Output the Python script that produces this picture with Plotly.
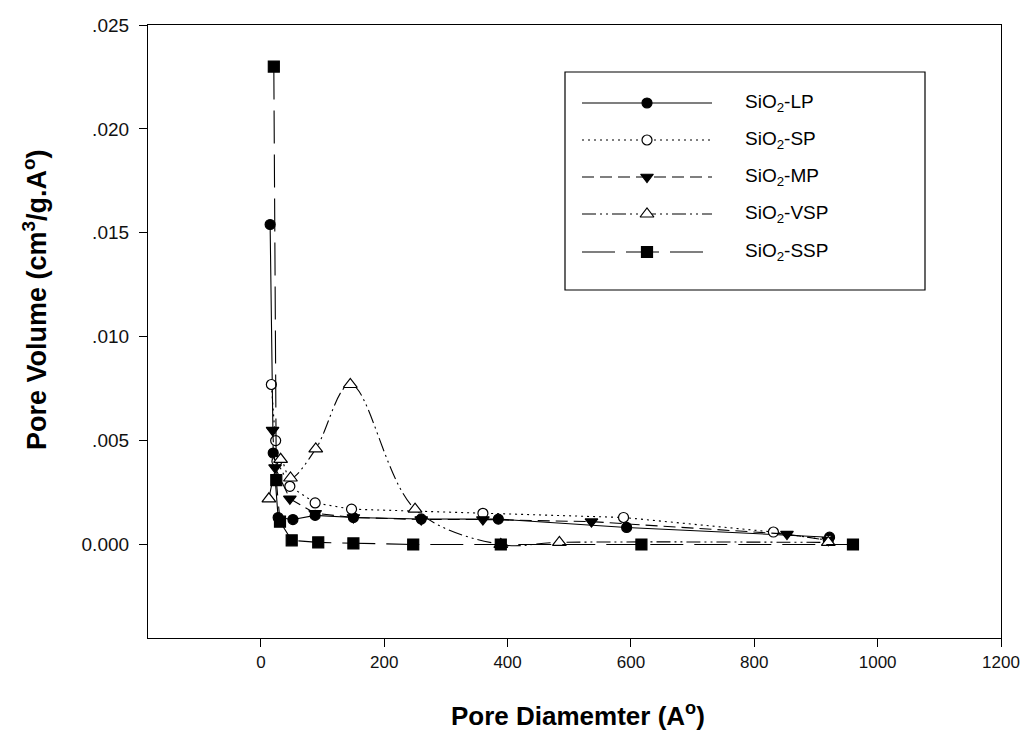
import plotly.graph_objects as go

# ---------------- data ----------------
lp_x = [15, 20, 28, 52, 88, 150, 260, 385, 593, 922]
lp_y = [0.0154, 0.0044, 0.0013, 0.0012, 0.0014, 0.0013, 0.00123, 0.00122, 0.00082, 0.00035]

sp_x = [17, 24, 26, 47, 88, 147, 360, 588, 831, 920]
sp_y = [0.0077, 0.0050, 0.0040, 0.0028, 0.0020, 0.0017, 0.0015, 0.0013, 0.0006, 0.0002]

mp_x = [19, 23, 47, 88, 150, 260, 360, 536, 853, 920]
mp_y = [0.0055, 0.0037, 0.0022, 0.0015, 0.0013, 0.0012, 0.0012, 0.0011, 0.0005, 0.0002]

vsp_x = [13, 32, 48, 89, 145, 250, 389, 484, 920]
vsp_y = [0.0022, 0.0041, 0.0032, 0.0046, 0.0077, 0.0017, 0.0, 0.0001, 0.0001]

ssp_x = [21, 25, 31, 50, 93, 150, 247, 389, 617, 960]
ssp_y = [0.0230, 0.0031, 0.0011, 0.0002, 0.0001, 0.00005, 0.0, 0.0, 0.0, 0.0]

x_ticks = [0, 200, 400, 600, 800, 1000, 1200]
y_ticks = [0.0, 0.005, 0.010, 0.015, 0.020, 0.025]
y_ticktext = ["0.000", ".005", ".010", ".015", ".020", ".025"]

series_names = ["SiO<sub>2</sub>-LP", "SiO<sub>2</sub>-SP", "SiO<sub>2</sub>-MP",
                "SiO<sub>2</sub>-VSP", "SiO<sub>2</sub>-SSP"]

# ---------------- styles ----------------
styles = [
    dict(dash="solid", symbol="circle", fill="black", size=10, shape="linear"),
    dict(dash="2px,4px", symbol="circle", fill="white", size=10, shape="linear"),
    dict(dash="12px,6px", symbol="triangle-down", fill="black", size=11, shape="linear"),
    dict(dash="14px,4px,2px,4px,2px,4px", symbol="triangle-up", fill="white", size=12, shape="spline"),
    dict(dash="33px,11px", symbol="square", fill="black", size=11, shape="linear"),
]
datasets = [(lp_x, lp_y), (sp_x, sp_y), (mp_x, mp_y), (vsp_x, vsp_y), (ssp_x, ssp_y)]

FONT = "Liberation Sans, Arial, sans-serif"

fig = go.Figure()
for (xs, ys), st, nm in zip(datasets, styles, series_names):
    fig.add_trace(go.Scatter(
        x=xs, y=ys, mode="lines+markers", name=nm, showlegend=False,
        line=dict(color="black", width=1.1, dash=st["dash"], shape=st["shape"], smoothing=1.0),
        marker=dict(symbol=st["symbol"], size=st["size"], color=st["fill"],
                    line=dict(color="black", width=1.2)),
    ))

# ---------------- layout geometry (page pixels; page body has an 8px margin) ----------------
W, H = 1029, 740
OFF = 8
PL, PR, PT, PB = 148, 1001, 25, 638          # plot area on the page
L, T = PL - OFF, PT - OFF
R, B = W - (PR - OFF), H - (PB - OFF)
pw, ph = PR - PL, PB - PT

def px(xp):
    return (xp - PL) / pw

def py(yp):
    return (PB - yp) / ph

# ---------------- custom legend (overlay axis in 0..1 units) ----------------
row_y = [103, 140, 177, 214, 252]
lx0, lx1, lxm, ltx = px(582), px(712), px(647), px(743)
for ry, st, nm in zip(row_y, styles, series_names):
    yy = py(ry)
    fig.add_trace(go.Scatter(
        x=[lx0, lx1], y=[yy, yy], mode="lines", xaxis="x2", yaxis="y2", showlegend=False,
        hoverinfo="skip", line=dict(color="black", width=1.1, dash=st["dash"])))
    fig.add_trace(go.Scatter(
        x=[lxm], y=[yy], mode="markers", xaxis="x2", yaxis="y2", showlegend=False,
        hoverinfo="skip",
        marker=dict(symbol=st["symbol"], size=st["size"], color=st["fill"],
                    line=dict(color="black", width=1.2))))
    fig.add_annotation(x=ltx, y=yy, xref="paper", yref="paper", text=nm, showarrow=False,
                       xanchor="left", yanchor="middle",
                       font=dict(family=FONT, size=19, color="black"))

fig.add_shape(type="rect", xref="paper", yref="paper",
              x0=px(565), x1=px(925), y0=py(290), y1=py(72),
              line=dict(color="black", width=1.2), fillcolor="rgba(0,0,0,0)")

# ---------------- axis titles ----------------
fig.add_annotation(x=px(35), y=py(300), xref="paper", yref="paper",
                   text="<b>Pore Volume (cm<sup>3</sup>/g.A<sup>o</sup>)</b>",
                   showarrow=False, textangle=-90, xanchor="center", yanchor="middle",
                   font=dict(family=FONT, size=27, color="black"))
fig.add_annotation(x=px(578), y=py(714), xref="paper", yref="paper",
                   text="<b>Pore Diamemter (A<sup>o</sup>)</b>",
                   showarrow=False, xanchor="center", yanchor="middle",
                   font=dict(family=FONT, size=26, color="black"))

fig.update_layout(
    width=W, height=H,
    margin=dict(l=L, r=R, t=T, b=B, autoexpand=False),
    paper_bgcolor="white", plot_bgcolor="white",
    font=dict(family=FONT, size=17, color="#111"),
    xaxis=dict(range=[-183, 1200], tickvals=x_ticks, ticks="outside", ticklen=8,
               tickwidth=1.2, tickcolor="black", showline=True, linecolor="black",
               linewidth=1.2, mirror=True, showgrid=False, zeroline=False,
               tickfont=dict(family=FONT, size=17, color="#111")),
    yaxis=dict(range=[-0.0045, 0.025], tickvals=y_ticks, ticktext=y_ticktext,
               ticks="outside", ticklen=8, tickwidth=1.2, tickcolor="black",
               showline=True, linecolor="black", linewidth=1.2, mirror=True,
               showgrid=False, zeroline=False, ticklabelstandoff=6,
               tickfont=dict(family=FONT, size=19, color="#111")),
    xaxis2=dict(range=[0, 1], overlaying="x", anchor="y2", visible=False, fixedrange=True),
    yaxis2=dict(range=[0, 1], overlaying="y", anchor="x2", visible=False, fixedrange=True),
    showlegend=False,
)

fig.write_html("out.html")
